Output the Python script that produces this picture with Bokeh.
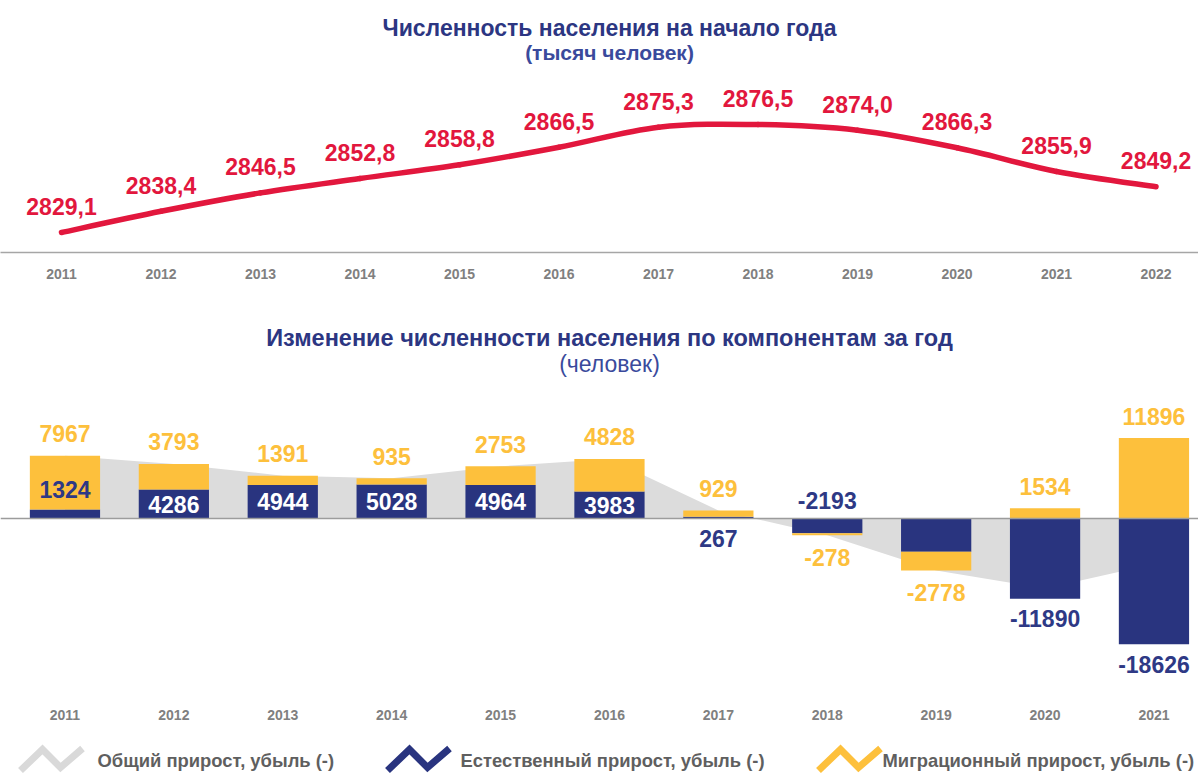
import numpy as np
from bokeh.plotting import figure
from bokeh.models import Range1d, FixedTicker, Span, Label
from bokeh.layouts import column
from bokeh.embed import file_html
from bokeh.resources import INLINE
from bokeh.core.properties import value

# ---------------- data ----------------
years_pop = [2011, 2012, 2013, 2014, 2015, 2016, 2017, 2018, 2019, 2020, 2021, 2022]
population = [2829.1, 2838.4, 2846.5, 2852.8, 2858.8, 2866.5, 2875.3, 2876.5, 2874.0, 2866.3, 2855.9, 2849.2]

years_change = [2011, 2012, 2013, 2014, 2015, 2016, 2017, 2018, 2019, 2020, 2021]
natural = [1324, 4286, 4944, 5028, 4964, 3983, 267, -2193, -4922, -11890, -18626]
migration = [7967, 3793, 1391, 935, 2753, 4828, 929, -278, -2778, 1534, 11896]
# how the natural-increase label is placed (style, not data)
natural_label_mode = ["end", "inside", "inside", "inside", "inside", "inside",
                      "zero", "zero", "none", "end", "end"]

title_top = "Численность населения на начало года"
subtitle_top = "(тысяч человек)"
title_bottom = "Изменение численности населения по компонентам за год"
subtitle_bottom = "(человек)"
legend_labels = ["Общий прирост, убыль (-)", "Естественный прирост, убыль (-)",
                 "Миграционный прирост, убыль (-)"]

# ---------------- styles ----------------
RED = "#e2173d"
NAVY = "#29347f"
NAVY_TXT = "#2e3985"
YELLOW = "#fdc03c"
GRAY_AREA = "#dcdcdc"
TITLE = "#2c3682"
SUBTITLE = "#3a4a9c"
AXIS_TXT = "#808080"
LEG_TXT = "#5f5f5f"
FONT = "Liberation Sans"
W = 1198

# ---------------- top chart ----------------
xp = np.arange(len(years_pop), dtype=float)
P = np.array(population)
top = figure(width=W, height=308, x_range=Range1d(-0.613, 11.427),
             y_range=Range1d(2820.32, 2930.94), toolbar_location=None,
             output_backend="svg", min_border_left=0, min_border_right=0,
             min_border_top=0, min_border_bottom=56, y_axis_location=None)
top.xgrid.visible = False
top.ygrid.visible = False
top.outline_line_color = None

# smooth (Catmull-Rom -> Bezier) curve through the data points
Xe = np.r_[xp[0], xp, xp[-1]]
Pe = np.r_[P[0], P, P[-1]]
n = len(xp)
x0 = xp[:-1]; y0 = P[:-1]; x1 = xp[1:]; y1 = P[1:]
cx0 = x0 + (Xe[2:n+1] - Xe[0:n-1]) / 6.0
cy0 = y0 + (Pe[2:n+1] - Pe[0:n-1]) / 6.0
cx1 = x1 - (Xe[3:n+2] - Xe[1:n]) / 6.0
cy1 = y1 - (Pe[3:n+2] - Pe[1:n]) / 6.0
top.bezier(x0=x0, y0=y0, x1=x1, y1=y1, cx0=cx0, cy0=cy0, cx1=cx1, cy1=cy1,
           line_color=RED, line_width=5.5, line_cap="round")

top.text(x=xp, y=P, text=[f"{v:.1f}".replace(".", ",") for v in population],
         y_offset=-26, text_align="center", text_baseline="middle",
         text_font=value(FONT), text_font_style="bold", text_font_size="23px",
         text_color=RED)

ax = top.xaxis[0]
ax.ticker = FixedTicker(ticks=list(range(len(years_pop))))
ax.major_label_overrides = {i: str(y) for i, y in enumerate(years_pop)}
ax.axis_line_color = "#a6a6a6"
ax.axis_line_width = 1.5
ax.major_tick_line_color = None
ax.minor_tick_line_color = None
ax.major_label_standoff = 10
ax.major_label_text_font = FONT
ax.major_label_text_font_style = "bold"
ax.major_label_text_font_size = "14px"
ax.major_label_text_color = AXIS_TXT

top.add_layout(Label(x=W / 2 + 10, y=225, x_units="screen", y_units="screen", text=title_top,
                     text_align="center", text_baseline="middle", text_font=FONT,
                     text_font_style="bold", text_font_size="23px", text_color=TITLE))
top.add_layout(Label(x=W / 2 + 10, y=200, x_units="screen", y_units="screen", text=subtitle_top,
                     text_align="center", text_baseline="middle", text_font=FONT,
                     text_font_style="bold", text_font_size="21px", text_color=SUBTITLE))

# ---------------- bottom chart ----------------
xc = np.arange(len(years_change), dtype=float)
nat = np.array(natural, dtype=float)
mig = np.array(migration, dtype=float)
total = nat + mig
same = np.sign(nat) == np.sign(mig)
yb = np.where(same, nat, 0.0)
yt = yb + mig

bot = figure(width=W, height=420, x_range=Range1d(-0.592, 10.409),
             y_range=Range1d(-26936, 31080), toolbar_location=None,
             output_backend="svg", min_border_left=0, min_border_right=0,
             min_border_top=0, min_border_bottom=28, y_axis_location=None)
bot.xgrid.visible = False
bot.ygrid.visible = False
bot.outline_line_color = None

BW = 0.645
bot.varea(x=xc, y1=np.zeros_like(total), y2=total, fill_color=GRAY_AREA)
bot.vbar(x=xc, bottom=0, top=nat, width=BW, fill_color=NAVY, line_color=None)
bot.vbar(x=xc, bottom=yb, top=yt, width=BW, fill_color=YELLOW, line_color=None)
bot.add_layout(Span(location=0, dimension="width", line_color="#9c9c9c", line_width=1.5))

# migration labels
bot.text(x=xc, y=yt, text=[str(v) for v in migration],
         y_offset=[-22 if v > 0 else 22 for v in migration],
         text_align="center", text_baseline="middle", text_font=value(FONT),
         text_font_style="bold", text_font_size="23px", text_color=YELLOW)

# natural labels
lx, ly, lt, lo, lc = [], [], [], [], []
for i, (v, mode) in enumerate(zip(natural, natural_label_mode)):
    if mode == "none":
        continue
    lx.append(xc[i]); lt.append(str(v))
    if mode == "inside":
        ly.append(v / 2.0); lo.append(0); lc.append("white")
    elif mode == "end":
        ly.append(v); lo.append(-20 if v > 0 else 20); lc.append(NAVY_TXT)
    else:  # opposite side of the zero line
        ly.append(0); lo.append(20 if v > 0 else -18); lc.append(NAVY_TXT)
bot.text(x=lx, y=ly, text=lt, y_offset=lo, text_color=lc,
         text_align="center", text_baseline="middle", text_font=value(FONT),
         text_font_style="bold", text_font_size="23px")

bx = bot.xaxis[0]
bx.ticker = FixedTicker(ticks=list(range(len(years_change))))
bx.major_label_overrides = {i: str(y) for i, y in enumerate(years_change)}
bx.axis_line_color = None
bx.major_tick_line_color = None
bx.minor_tick_line_color = None
bx.major_label_standoff = 3
bx.major_label_text_font = FONT
bx.major_label_text_font_style = "bold"
bx.major_label_text_font_size = "14px"
bx.major_label_text_color = AXIS_TXT

bot.add_layout(Label(x=W / 2 + 10, y=363, x_units="screen", y_units="screen", text=title_bottom,
                     text_align="center", text_baseline="middle", text_font=FONT,
                     text_font_style="bold", text_font_size="23.5px", text_color=TITLE))
bot.add_layout(Label(x=W / 2 + 10, y=337, x_units="screen", y_units="screen", text=subtitle_bottom,
                     text_align="center", text_baseline="middle", text_font=FONT,
                     text_font_size="23px", text_color=SUBTITLE))

# ---------------- legend ----------------
LH = 45
leg = figure(width=W, height=LH, x_range=Range1d(0, W), y_range=Range1d(0, LH),
             toolbar_location=None, output_backend="svg", min_border=0,
             x_axis_location=None, y_axis_location=None)
leg.xgrid.visible = False
leg.ygrid.visible = False
leg.outline_line_color = None
icon_colors = ["#d9d9d9", NAVY, YELLOW]
icon_x = [20, 387, 818]
text_x = [97, 460, 882]
zig_dx = [0, 22, 40, 62]
zig_y = [3, 24, 6, 25]
for c, ix, tx, lab in zip(icon_colors, icon_x, text_x, legend_labels):
    leg.line(x=[ix + d for d in zig_dx], y=zig_y, line_color=c, line_width=7,
             line_join="miter")
    leg.text(x=[tx], y=[13], text=[lab], text_align="left", text_baseline="middle",
             text_font=value(FONT), text_font_style="bold", text_font_size="18.4px",
             text_color=LEG_TXT)

layout = column(top, bot, leg, spacing=0)
open("out.html", "w").write(file_html(layout, INLINE))
